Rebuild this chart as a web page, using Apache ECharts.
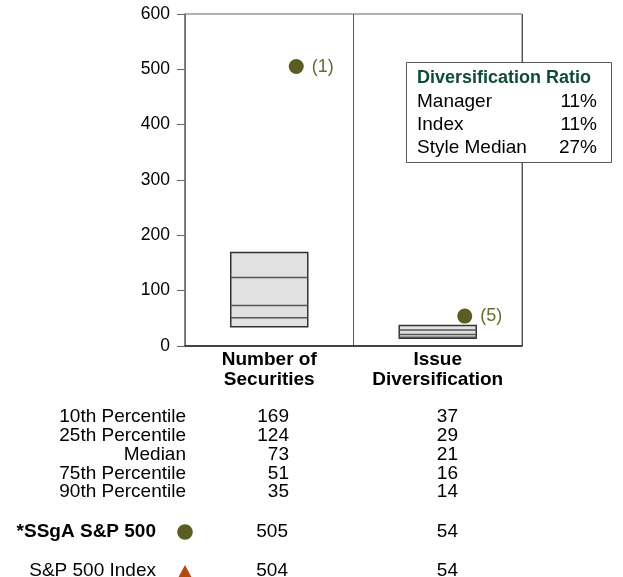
<!DOCTYPE html>
<html>
<head>
<meta charset="utf-8">
<script src="https://cdn.jsdelivr.net/npm/echarts@6/dist/echarts.min.js"></script>
<style>
  html, body { margin: 0; padding: 0; background: #fff; }
  #chart { width: 623px; height: 577px; }
</style>
</head>
<body>
<div id="chart"></div>
<script>
// Universe statistics: percentile boxes per measure
const categories = ['Number of\nSecurities', 'Issue\nDiversification'];
const percentileNames = ['10th Percentile', '25th Percentile', 'Median', '75th Percentile', '90th Percentile'];
const numberOfSecurities = [169, 124, 73, 51, 35];
const issueDiversification = [37, 29, 21, 16, 14];

// Fund and benchmark values
const fundName = '*SSgA S&P 500';
const indexName = 'S&P 500 Index';
const fundValues = [505, 54];
const indexValues = [504, 54];
const fundRanks = ['(1)', '(5)'];

// Y axis scale
const yMin = 0, yMax = 600, yStep = 100;

// Diversification ratio panel
const ratioTitle = 'Diversification Ratio';
const ratioRows = ['Manager', 'Index', 'Style Median'];
const ratioValues = ['11%', '11%', '27%'];

const FONT = '"Liberation Sans", Arial, Helvetica, sans-serif';
const OLIVE = '#5c5d23';
const RUST = '#b5480b';
const INK = '#000';

const boxData = [
  [0].concat(numberOfSecurities),
  [1].concat(issueDiversification)
];

function renderBox(params, api) {
  const cx = api.coord([api.value(0), 0])[0];
  const w = api.size([1, 0])[0] * 0.457;
  const ys = [1, 2, 3, 4, 5].map(i => api.coord([api.value(0), api.value(i)])[1]);
  const children = [{
    type: 'rect',
    shape: { x: cx - w / 2, y: ys[0], width: w, height: ys[4] - ys[0] },
    style: { fill: '#e1e1e1', stroke: '#333', lineWidth: 1.5 }
  }];
  for (let i = 1; i < 4; i++) {
    children.push({
      type: 'line',
      shape: { x1: cx - w / 2, y1: ys[i], x2: cx + w / 2, y2: ys[i] },
      style: { stroke: '#555', lineWidth: 1.5 }
    });
  }
  return { type: 'group', children };
}

function txt(x, y, text, opts) {
  return {
    type: 'text', x, y,
    style: Object.assign({ text, font: '19px ' + FONT, fill: INK, textAlign: 'right', textVerticalAlign: 'middle' }, opts || {})
  };
}

// Table below the plot
const graphics = [];
const rowTop = 417, rowStep = 18.8;
percentileNames.forEach((name, i) => {
  const y = rowTop + i * rowStep;
  graphics.push(txt(186, y, name));
  graphics.push(txt(289, y, String(numberOfSecurities[i])));
  graphics.push(txt(458, y, String(issueDiversification[i])));
});

const fundRowY = 532, indexRowY = 571;
graphics.push(txt(156, fundRowY, fundName, { font: 'bold 19px ' + FONT }));
graphics.push({ type: 'circle', shape: { cx: 185, cy: fundRowY, r: 7.8 }, style: { fill: OLIVE } });
graphics.push(txt(288, fundRowY, String(fundValues[0])));
graphics.push(txt(458, fundRowY, String(fundValues[1])));

graphics.push(txt(156, indexRowY, indexName));
graphics.push({ type: 'polygon', shape: { points: [[185, 565], [192.5, 579], [177.5, 579]] }, style: { fill: RUST } });
graphics.push(txt(288, indexRowY, String(indexValues[0])));
graphics.push(txt(458, indexRowY, String(indexValues[1])));

// Diversification ratio panel
graphics.push({ type: 'rect', z: 100, shape: { x: 406.5, y: 62.5, width: 205, height: 100 }, style: { fill: '#fff', stroke: '#555', lineWidth: 1 } });
graphics.push({ type: 'text', z: 101, x: 417, y: 78, style: { text: ratioTitle, font: 'bold 18px ' + FONT, fill: '#0f4b3a', textVerticalAlign: 'middle' } });
ratioRows.forEach((name, i) => {
  const y = 102 + i * 22.8;
  graphics.push({ type: 'text', z: 101, x: 417, y, style: { text: name, font: '19px ' + FONT, fill: INK, textVerticalAlign: 'middle' } });
  graphics.push({ type: 'text', z: 101, x: 597, y, style: { text: ratioValues[i], font: '19px ' + FONT, fill: INK, textAlign: 'right', textVerticalAlign: 'middle' } });
});

const chart = echarts.init(document.getElementById('chart'));
chart.setOption({
  animation: false,
  grid: { left: 185, right: 101, top: 14, bottom: 231, show: true, borderColor: '#666', borderWidth: 1, containLabel: false },
  xAxis: {
    type: 'category',
    data: categories,
    boundaryGap: true,
    axisLine: { show: true, lineStyle: { color: '#222', width: 1.5 } },
    axisTick: { show: false },
    splitLine: { show: true, interval: 0, lineStyle: { color: '#555', width: 1 } },
    axisLabel: { interval: 0, hideOverlap: false, fontFamily: FONT, fontWeight: 'bold', fontSize: 19, color: INK, lineHeight: 20, margin: 4 }
  },
  yAxis: {
    type: 'value',
    min: yMin, max: yMax, interval: yStep,
    axisLine: { show: true, lineStyle: { color: '#777', width: 1.5 } },
    axisTick: { show: true, length: 8, lineStyle: { color: '#666' } },
    splitLine: { show: false },
    axisLabel: { fontFamily: FONT, fontSize: 17.5, color: INK, margin: 15 }
  },
  series: [
    {
      type: 'custom',
      renderItem: renderBox,
      data: boxData,
      encode: { x: 0, y: [1, 2, 3, 4, 5] },
      z: 2
    },
    {
      name: indexName,
      type: 'scatter',
      data: indexValues,
      symbol: 'triangle',
      symbolSize: 9,
      symbolOffset: [27, 0],
      itemStyle: { color: RUST, opacity: 1 },
      z: 3
    },
    {
      name: fundName,
      type: 'scatter',
      data: fundValues,
      symbol: 'circle',
      symbolSize: 15,
      symbolOffset: [27, 0],
      itemStyle: { color: OLIVE, opacity: 1 },
      label: {
        show: true,
        position: 'right',
        distance: 8,
        formatter: p => fundRanks[p.dataIndex],
        fontFamily: FONT,
        fontSize: 18,
        color: '#6b6c2e'
      },
      z: 4
    }
  ],
  graphic: graphics
});
</script>
</body>
</html>
